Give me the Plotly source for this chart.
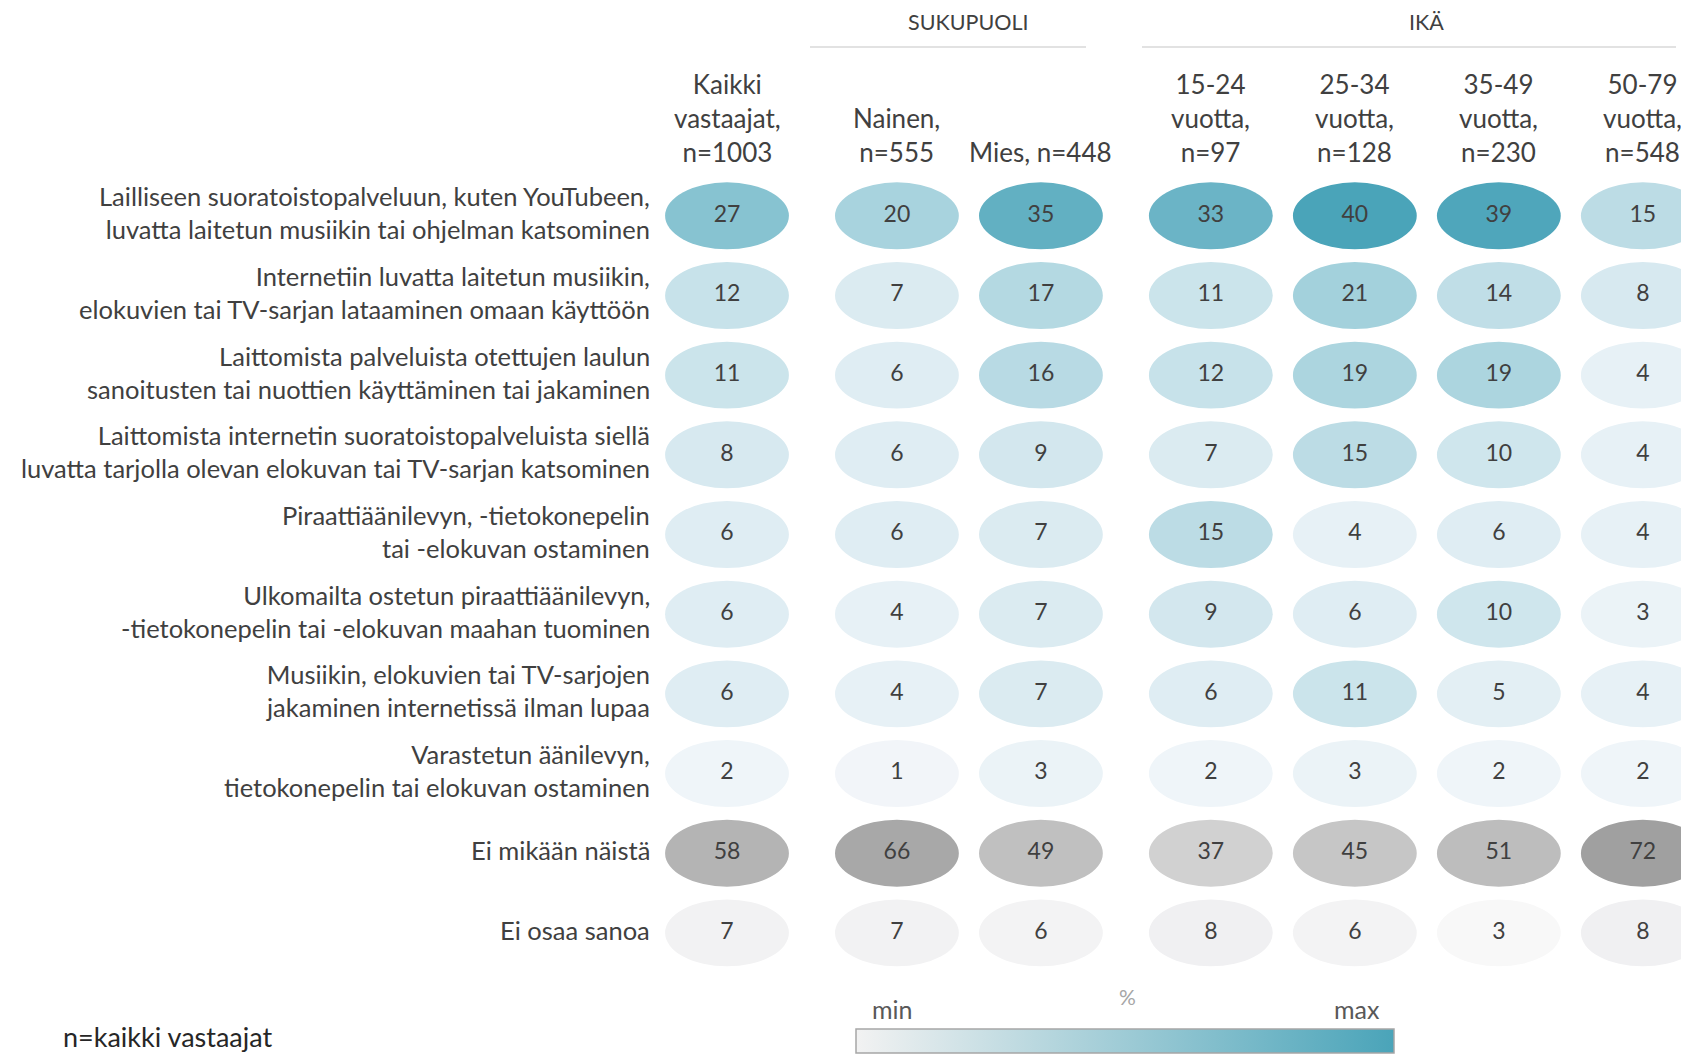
import plotly.graph_objects as go
from plotly.colors import sample_colorscale

# ---------------- data ----------------
row_labels = [
    "Lailliseen suoratoistopalveluun, kuten YouTubeen,<br>luvatta laitetun musiikin tai ohjelman katsominen",
    "Internetiin luvatta laitetun musiikin,<br>elokuvien tai TV-sarjan lataaminen omaan käyttöön",
    "Laittomista palveluista otettujen laulun<br>sanoitusten tai nuottien käyttäminen tai jakaminen",
    "Laittomista internetin suoratoistopalveluista siellä<br>luvatta tarjolla olevan elokuvan tai TV-sarjan katsominen",
    "Piraattiäänilevyn, -tietokonepelin<br>tai -elokuvan ostaminen",
    "Ulkomailta ostetun piraattiäänilevyn,<br>-tietokonepelin tai -elokuvan maahan tuominen",
    "Musiikin, elokuvien tai TV-sarjojen<br>jakaminen internetissä ilman lupaa",
    "Varastetun äänilevyn,<br>tietokonepelin tai elokuvan ostaminen",
    "Ei mikään näistä",
    "Ei osaa sanoa",
]

col_labels = [
    "Kaikki<br>vastaajat,<br>n=1003",
    "Nainen,<br>n=555",
    "Mies, n=448",
    "15-24<br>vuotta,<br>n=97",
    "25-34<br>vuotta,<br>n=128",
    "35-49<br>vuotta,<br>n=230",
    "50-79<br>vuotta,<br>n=548",
]
col_group = [0, 1, 1, 2, 2, 2, 2]
group_titles = {1: "SUKUPUOLI", 2: "IKÄ"}

kaikki = [27, 12, 11, 8, 6, 6, 6, 2, 58, 7]
nainen = [20, 7, 6, 6, 6, 4, 4, 1, 66, 7]
mies = [35, 17, 16, 9, 7, 7, 7, 3, 49, 6]
age_15_24 = [33, 11, 12, 7, 15, 9, 6, 2, 37, 8]
age_25_34 = [40, 21, 19, 15, 4, 6, 11, 3, 45, 6]
age_35_49 = [39, 14, 19, 10, 6, 10, 5, 2, 51, 3]
age_50_79 = [15, 8, 4, 4, 4, 3, 4, 2, 72, 8]
columns = [kaikki, nainen, mies, age_15_24, age_25_34, age_35_49, age_50_79]

footnote = "n=kaikki vastaajat"

# ---------------- styling ----------------
FONT = "Lato"
TXT = "#404040"
WIN_W, WIN_H = 1689, 1062
OFF = 8                       # default body margin of the html page
W, H = WIN_W - OFF, WIN_H - 2 * OFF

blue_scale = [[0.0, "#f2f2f2"], [0.03, "#f2f6fa"], [0.5, "#a8d3de"], [1.0, "#4aa4b9"]]
gray_scale = [[0.0, "#d1d1d1"], [1.0, "#a0a0a0"]]
light_scale = [[0.0, "#f8f8f8"], [1.0, "#f0f0f2"]]
row_style = ["blue"] * 8 + ["gray", "light"]

GROUP_GAP = 0.18
col_x = [i + GROUP_GAP * g for i, g in enumerate(col_group)]

# window-pixel layout: x unit = 144 px, first column at 727 px; row unit 79.75 px, first row at 216 px
XU, X0PX = 144.0, 727.0
YU, Y0PX = 79.75, 216.0
xr = [-(X0PX - OFF) / XU, (OFF + W - X0PX) / XU]
yr = [(OFF + H - Y0PX) / YU, -(Y0PX - OFF) / YU]


def px_x(p):
    return (p - OFF) / W


def px_y(p):
    return 1 - (p - OFF) / H


def scaled_color(val, row_vals_all, style):
    if style == "blue":
        lo, hi, sc = 0, 40, blue_scale
    elif style == "gray":
        lo, hi, sc = min(row_vals_all), max(row_vals_all), gray_scale
    else:
        lo, hi, sc = min(row_vals_all), max(row_vals_all), light_scale
    t = (val - lo) / (hi - lo) if hi > lo else 0
    t = max(0, min(1, t))
    return sample_colorscale(sc, [t])[0]


fig = go.Figure()

shapes = []
EW, EH = 0.43, 0.42
for ci, vals in enumerate(columns):
    for ri, v in enumerate(vals):
        row_all = [c[ri] for c in columns]
        shapes.append(dict(
            type="circle", xref="x", yref="y",
            x0=col_x[ci] - EW, x1=col_x[ci] + EW,
            y0=ri - EH, y1=ri + EH,
            fillcolor=scaled_color(v, row_all, row_style[ri]),
            line=dict(width=0), layer="below",
        ))

# header group lines
shapes.append(dict(type="line", xref="paper", yref="paper",
                   x0=px_x(810), x1=px_x(1086), y0=px_y(47), y1=px_y(47),
                   line=dict(color="#d9d9d9", width=1.5)))
shapes.append(dict(type="line", xref="paper", yref="paper",
                   x0=px_x(1142), x1=px_x(1676), y0=px_y(47), y1=px_y(47),
                   line=dict(color="#d9d9d9", width=1.5)))

# value labels
for ci, vals in enumerate(columns):
    fig.add_trace(go.Scatter(
        x=[col_x[ci]] * len(vals), y=list(range(len(vals))),
        mode="text", text=[str(v) for v in vals],
        textposition="middle center",
        textfont=dict(family=FONT, size=23, color=TXT),
        hoverinfo="skip", showlegend=False,
    ))

# colour legend bar (kept inside the figure so the page does not grow)
fig.add_trace(go.Scatter(
    x=[None], y=[None], mode="markers", showlegend=False, hoverinfo="skip",
    marker=dict(color=[0], cmin=0, cmax=1,
                colorscale=[[0, "#f2f2f2"], [1, "#4aa4b9"]],
                showscale=True,
                colorbar=dict(orientation="h", x=px_x(1125), xanchor="center",
                              y=px_y(1029), yanchor="top",
                              len=538, lenmode="pixels",
                              thickness=24, thicknessmode="pixels",
                              outlinewidth=1.5, outlinecolor="#a6a6a6",
                              showticklabels=False, ticks="",
                              xpad=0, ypad=0, borderwidth=0)),
))

annotations = []
for ri, lab in enumerate(row_labels):
    annotations.append(dict(
        xref="paper", yref="y", x=px_x(652), y=ri, yshift=3,
        xanchor="right", yanchor="middle", align="right",
        text=lab, showarrow=False,
        font=dict(family=FONT, size=25.5, color=TXT),
    ))

for ci, lab in enumerate(col_labels):
    annotations.append(dict(
        xref="x", yref="paper", x=col_x[ci], y=px_y(170),
        xanchor="center", yanchor="bottom", align="center",
        text=lab, showarrow=False,
        font=dict(family=FONT, size=26, color=TXT),
    ))

for g, title in group_titles.items():
    xs = [col_x[i] for i in range(len(col_x)) if col_group[i] == g]
    annotations.append(dict(
        xref="x", yref="paper", x=sum(xs) / len(xs), y=px_y(22),
        xanchor="center", yanchor="middle", borderpad=0,
        text=title, showarrow=False,
        font=dict(family=FONT, size=21.5, color=TXT),
    ))

annotations += [
    dict(xref="paper", yref="paper", x=px_x(892), y=px_y(1010), text="min",
         showarrow=False, xanchor="center", yanchor="middle",
         font=dict(family=FONT, size=25, color="#595959")),
    dict(xref="paper", yref="paper", x=px_x(1357), y=px_y(1010), text="max",
         showarrow=False, xanchor="center", yanchor="middle",
         font=dict(family=FONT, size=25, color="#595959")),
    dict(xref="paper", yref="paper", x=px_x(1127), y=px_y(997), text="%",
         showarrow=False, xanchor="center", yanchor="middle",
         font=dict(family=FONT, size=21, color="#a6a6a6")),
    dict(xref="paper", yref="paper", x=px_x(61), y=px_y(1037), text=footnote,
         showarrow=False, xanchor="left", yanchor="middle",
         font=dict(family=FONT, size=27, color="#262626")),
]

fig.update_layout(
    width=W, height=H,
    margin=dict(l=0, r=0, t=0, b=0),
    paper_bgcolor="white", plot_bgcolor="white",
    shapes=shapes, annotations=annotations,
    xaxis=dict(range=xr, visible=False, fixedrange=True),
    yaxis=dict(range=yr, visible=False, fixedrange=True),
    showlegend=False,
)

fig.write_html("out.html")
